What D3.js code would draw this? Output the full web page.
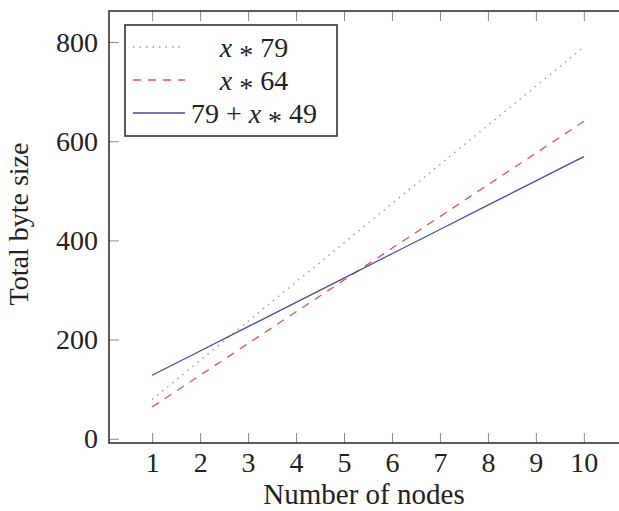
<!DOCTYPE html>
<html lang="en">

<head>
    <meta charset="UTF-8">
    <script src="https://d3js.org/d3.v7.min.js"></script>
    <title>Total byte size</title>
    <style>
        body { margin: 0; background: #fff; }
        svg text { font-family: "Liberation Serif", "Times New Roman", serif; fill: #222; }
    </style>
</head>

<body>
    <svg id="chart" width="619" height="511"></svg>
    <script>

        // number of nodes on the x axis
        const nodes = [1, 2, 3, 4, 5, 6, 7, 8, 9, 10];

        // the three series, one value per node
        const sizeX79 = [79, 158, 237, 316, 395, 474, 553, 632, 711, 790];
        const sizeX64 = [64, 128, 192, 256, 320, 384, 448, 512, 576, 640];
        const size79X49 = [128, 177, 226, 275, 324, 373, 422, 471, 520, 569];

        const yTicks = [0, 200, 400, 600, 800];

        const series = [
            { name: "x*79", values: sizeX79, color: "#9a9a9a", dash: "1.5,5", width: 1.4 },
            { name: "x*64", values: sizeX64, color: "#e05252", dash: "8,7", width: 1.3 },
            { name: "79+x*49", values: size79X49, color: "#4a4a9c", dash: null, width: 1.3 }
        ];

        const plotLeft = 109, plotTop = 11, plotRight = 627, plotBottom = 443;
        const serif = "'Liberation Serif', 'Times New Roman', serif";

        const svg = d3.select("#chart");

        // pgfplots style: 10% enlarged limits
        const x = d3.scaleLinear().domain([0.1, 10.9]).range([plotLeft, plotRight]);
        const y = d3.scaleLinear().domain([-8.6, 862.6]).range([plotBottom, plotTop]);

        // inner tick marks + labels
        const xAxis = svg.append("g")
            .attr("transform", "translate(0," + plotBottom + ")")
            .call(d3.axisBottom(x).tickValues(nodes).tickSizeInner(-10).tickSizeOuter(0).tickPadding(9));
        const xTop = svg.append("g")
            .attr("transform", "translate(0," + plotTop + ")")
            .call(d3.axisTop(x).tickValues(nodes).tickSizeInner(-10).tickSizeOuter(0).tickFormat(""));
        const yAxis = svg.append("g")
            .attr("transform", "translate(" + plotLeft + ",0)")
            .call(d3.axisLeft(y).tickValues(yTicks).tickSizeInner(-10).tickSizeOuter(0).tickPadding(11));

        [xAxis, xTop, yAxis].forEach(function (g) {
            g.select(".domain").remove();
            g.selectAll(".tick line").attr("stroke", "#8a8a8a").attr("stroke-width", 1);
            g.selectAll(".tick text")
                .style("font-size", "28px")
                .style("font-family", serif)
                .attr("fill", "#222");
        });

        // the lines
        const line = d3.line()
            .x(function (d, i) { return x(nodes[i]); })
            .y(function (d) { return y(d); });

        svg.append("g").selectAll("path")
            .data(series)
            .enter().append("path")
            .attr("fill", "none")
            .attr("stroke", function (d) { return d.color; })
            .attr("stroke-width", function (d) { return d.width; })
            .attr("stroke-dasharray", function (d) { return d.dash; })
            .attr("d", function (d) { return line(d.values); });

        // frame (right side falls outside the picture)
        svg.append("rect")
            .attr("x", plotLeft).attr("y", plotTop)
            .attr("width", plotRight - plotLeft).attr("height", plotBottom - plotTop)
            .attr("fill", "none")
            .attr("stroke", "#333")
            .attr("stroke-width", 1.6);

        // axis titles
        svg.append("text")
            .attr("x", (plotLeft + plotRight) / 2 - 4)
            .attr("y", 504)
            .attr("text-anchor", "middle")
            .style("font-family", serif)
            .style("font-size", "29px")
            .text("Number of nodes");

        svg.append("text")
            .attr("transform", "translate(28," + ((plotTop + plotBottom) / 2 - 3) + ") rotate(-90)")
            .attr("text-anchor", "middle")
            .style("font-family", serif)
            .style("font-size", "28px")
            .text("Total byte size");

        // legend
        const legend = svg.append("g");
        legend.append("rect")
            .attr("x", 125).attr("y", 25)
            .attr("width", 212).attr("height", 111)
            .attr("fill", "#fff")
            .attr("stroke", "#333")
            .attr("stroke-width", 1.6);

        const rowY = [47, 80, 113];
        // pieces of each math label: [text, italic, raise, gap after]
        const labels = [
            [["x", true, 0, 7], ["*", false, -7, 7], ["79", false, 0, 0]],
            [["x", true, 0, 7], ["*", false, -7, 7], ["64", false, 0, 0]],
            [["79", false, 0, 7], ["+", false, 0, 7], ["x", true, 0, 7], ["*", false, -7, 7], ["49", false, 0, 0]]
        ];

        series.forEach(function (s, i) {
            legend.append("line")
                .attr("x1", 133).attr("x2", 185)
                .attr("y1", rowY[i]).attr("y2", rowY[i])
                .attr("stroke", s.color)
                .attr("stroke-width", s.width)
                .attr("stroke-dasharray", s.dash);

            const row = legend.append("g");
            let pos = 0;
            labels[i].forEach(function (p) {
                const t = row.append("text")
                    .attr("x", pos)
                    .attr("y", rowY[i] + 10 + (p[0] === "*" ? 7 : 0))
                    .style("font-family", serif)
                    .style("font-size", "28px")
                    .style("font-style", p[1] ? "italic" : "normal")
                    .text(p[0]);
                pos += t.node().getComputedTextLength() + p[3];
            });
            row.attr("transform", "translate(" + (254 - pos / 2) + ",0)");
        });

    </script>
</body>

</html>
